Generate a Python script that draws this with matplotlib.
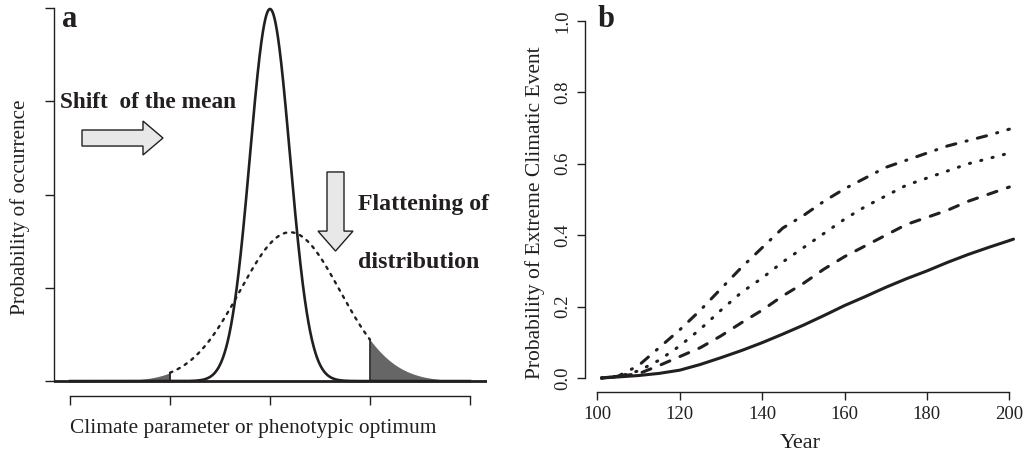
import numpy as np
import matplotlib
matplotlib.use('Agg')
import matplotlib.pyplot as plt
from matplotlib.patches import Polygon

plt.rcParams['font.family'] = ['Liberation Serif', 'DejaVu Serif']
plt.rcParams['lines.scale_dashes'] = False

INK = '#231f20'

# ---------------- Panel a: current vs future climate distribution ----------------
dist_means = [0.0, 0.2]     # narrow (current), flattened & shifted (future)
dist_sds = [0.2, 0.5]
tail_limits = [-1.0, 1.0]   # thresholds for extreme events
a_xticks = [-2, -1, 0, 1, 2]
a_yticks = [0.0, 0.5, 1.0, 1.5, 2.0]

# ---------------- Panel b: probability of extreme climatic event ----------------
years = [101, 105, 110, 115, 120, 125, 130, 135, 140, 145, 150,
         155, 160, 165, 170, 175, 180, 185, 190, 195, 200]
years_solid = years + [201]
p_solid = [0.0, 0.003, 0.007, 0.013, 0.022, 0.038, 0.057, 0.077, 0.099, 0.123, 0.148,
           0.175, 0.203, 0.228, 0.254, 0.278, 0.300, 0.324, 0.346, 0.366, 0.385, 0.389]
p_dashed = [0.0, 0.005, 0.012, 0.035, 0.060, 0.085, 0.118, 0.155, 0.190, 0.230, 0.265,
            0.305, 0.340, 0.370, 0.400, 0.430, 0.450, 0.470, 0.495, 0.515, 0.535]
p_dotted = [0.0, 0.004, 0.020, 0.050, 0.090, 0.137, 0.190, 0.240, 0.280, 0.325, 0.365,
            0.405, 0.445, 0.480, 0.510, 0.540, 0.560, 0.580, 0.600, 0.615, 0.630]
p_dashdot = [0.0, 0.005, 0.035, 0.085, 0.135, 0.190, 0.250, 0.310, 0.365, 0.420, 0.455,
             0.495, 0.530, 0.560, 0.590, 0.610, 0.630, 0.650, 0.665, 0.680, 0.697]
b_xticks = [100, 120, 140, 160, 180, 200]
b_yticks = [0.0, 0.2, 0.4, 0.6, 0.8, 1.0]
b_yticklabels = ['0.0', '0.2', '0.4', '0.6', '0.8', '1.0']

W, H = 1024, 457
fig = plt.figure(figsize=(W / 100, H / 100), dpi=100)


def norm_pdf(x, m, s):
    return np.exp(-0.5 * ((x - m) / s) ** 2) / (s * np.sqrt(2 * np.pi))


# ---------- panel a ----------
axa = fig.add_axes([54 / W, 1 - 396 / H, (487 - 54) / W, 396 / H])
axa.set_xlim(-2.16, 2.17)
axa.set_ylim(-0.08, 2.0 + 8 / 186.5)

x = np.linspace(-2, 2, 1601)
pdf_now = norm_pdf(x, dist_means[0], dist_sds[0])
pdf_fut = norm_pdf(x, dist_means[1], dist_sds[1])

lo, hi = tail_limits
axa.fill_between(x[x <= lo], 0, pdf_fut[x <= lo], color='#666666', lw=0, zorder=2)
axa.fill_between(x[x >= hi], 0, pdf_fut[x >= hi], color='#666666', lw=0, zorder=2)
axa.vlines([lo, hi], 0, [norm_pdf(lo, dist_means[1], dist_sds[1]),
                         norm_pdf(hi, dist_means[1], dist_sds[1])],
           color=INK, lw=1.2, zorder=3)
mid = (x >= lo) & (x <= hi)
axa.plot(x[mid], pdf_fut[mid], color=INK, lw=1.7, ls=(0, (1.8, 4.2)),
         dash_capstyle='round', zorder=3)
axa.plot(x, pdf_now, color=INK, lw=1.9, zorder=4)
axa.axhline(0, color=INK, lw=2.0, zorder=4)

for s in ['top', 'right']:
    axa.spines[s].set_visible(False)
axa.spines['left'].set_bounds(0, 2)
axa.spines['bottom'].set_bounds(-2, 2)
for s in ['left', 'bottom']:
    axa.spines[s].set_color(INK)
    axa.spines[s].set_linewidth(1.0)
axa.set_xticks(a_xticks)
axa.set_yticks(a_yticks)
axa.set_xticklabels([])
axa.set_yticklabels([])
axa.tick_params(direction='out', length=6.5, width=1.0, color=INK)
axa.patch.set_visible(False)

# arrows (annotation shapes)
right_arrow = [(-1.88, 1.26), (-1.27, 1.26), (-1.27, 1.212), (-1.07, 1.303),
               (-1.27, 1.394), (-1.27, 1.346), (-1.88, 1.346)]
down_arrow = [(0.57, 1.121), (0.74, 1.121), (0.74, 0.804), (0.83, 0.804),
              (0.655, 0.697), (0.48, 0.804), (0.57, 0.804)]
for pts in (right_arrow, down_arrow):
    axa.add_patch(Polygon(pts, closed=True, facecolor='#e8e8e8',
                          edgecolor=INK, lw=1.0, zorder=5))

axa.text(-2.08, 1.898, 'a', fontsize=22, fontweight='bold', color=INK,
         ha='left', va='baseline')
axa.text(-2.1, 1.464, 'Shift  of the mean', fontsize=16.8, fontweight='bold',
         color=INK, ha='left', va='baseline')
axa.text(0.88, 0.917, 'Flattening of', fontsize=17.2, fontweight='bold',
         color=INK, ha='left', va='baseline')
axa.text(0.88, 0.607, 'distribution', fontsize=17.2, fontweight='bold',
         color=INK, ha='left', va='baseline')

fig.text(253 / W, 1 - 428 / H, 'Climate parameter or phenotypic optimum',
         fontsize=15.4, color=INK, ha='center', va='center')
fig.text(20 / W, 1 - 207 / H, 'Probability of occurrence', fontsize=15.3,
         color=INK, ha='center', va='center', rotation=90)

# ---------- panel b ----------
axb = fig.add_axes([585 / W, 1 - 392.3 / H, (W - 585) / W, (392.3 - 6.7) / H])
axb.set_xlim(97, 97 + (W - 585) / 4.12)
axb.set_ylim(-0.04, 1.04)

lw_b = 2.2
axb.plot(years_solid, p_solid, color=INK, lw=lw_b, solid_capstyle='round')
axb.plot(years, p_dashed, color=INK, lw=lw_b, ls=(0, (6.8, 8.0)),
         dash_capstyle='round')
axb.plot(years, p_dotted, color=INK, lw=lw_b, ls=(0, (0.8, 7.6)),
         dash_capstyle='round')
axb.plot(years, p_dashdot, color=INK, lw=lw_b, ls=(0, (0.8, 7.6, 6.8, 7.6)),
         dash_capstyle='round')

for s in ['top', 'right']:
    axb.spines[s].set_visible(False)
axb.spines['left'].set_bounds(0, 1)
axb.spines['bottom'].set_bounds(100, 200)
for s in ['left', 'bottom']:
    axb.spines[s].set_color(INK)
    axb.spines[s].set_linewidth(1.0)
axb.set_xticks(b_xticks)
axb.set_xticklabels([str(v) for v in b_xticks], fontsize=13.5, color=INK)
axb.set_yticks(b_yticks)
axb.set_yticklabels(b_yticklabels, fontsize=13.5, color=INK, rotation=90, va='center')
axb.tick_params(direction='out', length=6.0, width=1.0, color=INK, pad=4)
axb.patch.set_visible(False)

axb.text(100, 0.983, 'b', fontsize=22, fontweight='bold', color=INK,
         ha='left', va='baseline')
fig.text(800 / W, 1 - 443 / H, 'Year', fontsize=16, color=INK,
         ha='center', va='center')
fig.text(535 / W, 1 - 213 / H, 'Probability of Extreme Climatic Event',
         fontsize=15.5, color=INK, ha='center', va='center', rotation=90)

fig.savefig('out.png', dpi=100)
